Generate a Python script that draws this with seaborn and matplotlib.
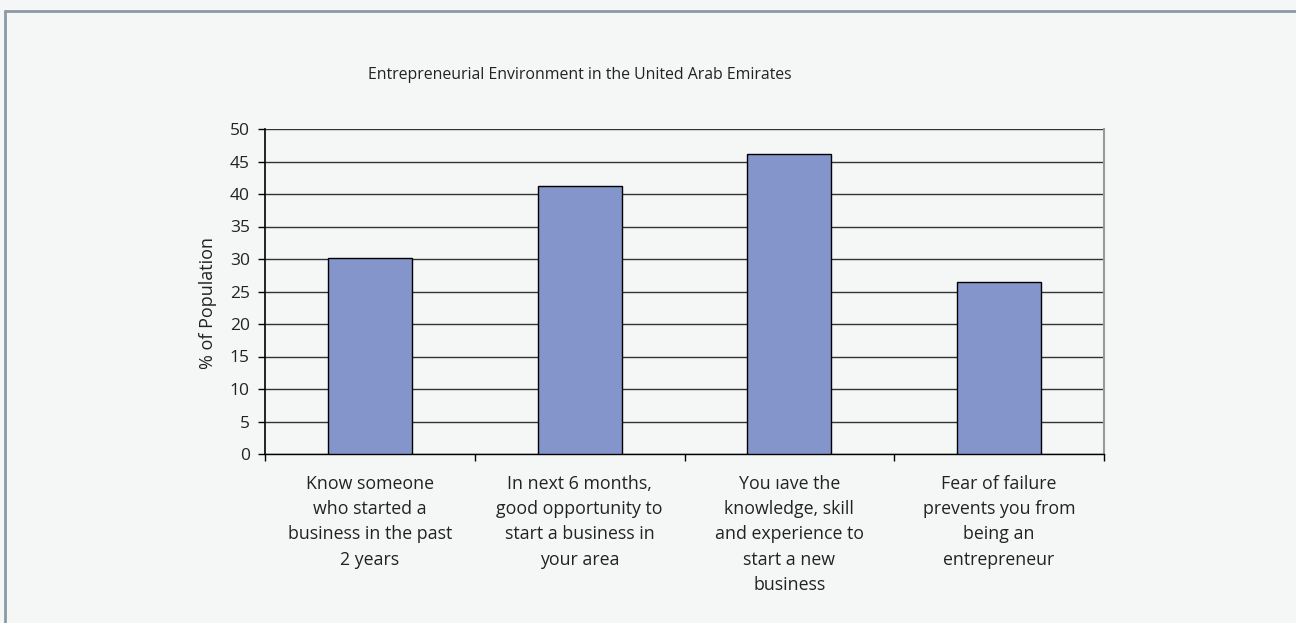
import matplotlib
matplotlib.use("Agg")
import matplotlib.pyplot as plt
import seaborn as sns
import pandas as pd
from matplotlib.lines import Line2D

categories = [
    "Know someone\nwho started a\nbusiness in the past\n2 years",
    "In next 6 months,\ngood opportunity to\nstart a business in\nyour area",
    "You ıave the\nknowledge, skill\nand experience to\nstart a new\nbusiness",
    "Fear of failure\nprevents you from\nbeing an\nentrepreneur",
]
values = [30.2, 41.3, 46.1, 26.4]
y_ticks = [0, 5, 10, 15, 20, 25, 30, 35, 40, 45, 50]
title = "Entrepreneurial Environment in the United Arab Emirates"
y_label = "% of Population"

bg = "#F5F7F7"
bar_color = "#8495CB"
text_color = "#222222"

sns.set_theme(style="white")
plt.rcParams["font.family"] = ["Open Sans", "DejaVu Sans"]

fig = plt.figure(figsize=(12.96, 6.23), dpi=100, facecolor=bg)
W, H = 1296, 623
ax = fig.add_axes([265 / W, 1 - 454 / H, (1104 - 265) / W, (454 - 129) / H])
ax.set_facecolor(bg)

df = pd.DataFrame({"category": categories, "value": values})
sns.barplot(data=df, x="category", y="value", color=bar_color, saturation=1,
            width=0.4, edgecolor="black", linewidth=1.0, ax=ax, zorder=3)

ax.set_ylim(0, 50)
ax.set_xlim(-0.5, len(categories) - 0.5)
ax.set_yticks(y_ticks)
ax.set_yticklabels([str(t) for t in y_ticks], fontsize=12.5, color=text_color)
for t in y_ticks:
    ax.axhline(t, color="#333333", linewidth=1.0, zorder=1)

ax.tick_params(axis="y", which="major", left=True, length=5, width=1,
               color="black", pad=6)
ax.tick_params(axis="x", which="major", bottom=False, length=0, pad=15,
               labelsize=12.8, labelcolor=text_color)
ax.set_xticks(range(len(categories)))
ax.set_xticklabels(categories, linespacing=1.52, va="top")
ax.set_xticks([i - 0.5 for i in range(len(categories) + 1)], minor=True)
ax.tick_params(axis="x", which="minor", bottom=True, length=5, width=1,
               color="black")

ax.spines["top"].set_visible(False)
ax.spines["left"].set_color("black")
ax.spines["left"].set_linewidth(1.2)
ax.spines["bottom"].set_color("black")
ax.spines["bottom"].set_linewidth(1.0)
ax.spines["right"].set_color("#999999")
ax.spines["right"].set_linewidth(1.5)

ax.set_xlabel("")
ax.set_ylabel(y_label, fontsize=13, color=text_color)
ax.yaxis.set_label_coords(-0.057, 0.465)

fig.text(368 / W, 1 - 75 / H, title, fontsize=11.4, color=text_color,
         ha="left", va="center")

# outer frame along the top and left edges
frame = "#8C9AA6"
fig.add_artist(Line2D([4.5 / W, 1.0], [1 - 11 / H, 1 - 11 / H],
                      transform=fig.transFigure, color=frame, linewidth=2))
fig.add_artist(Line2D([4.5 / W, 4.5 / W], [0, 1 - 11 / H],
                      transform=fig.transFigure, color=frame, linewidth=2))

fig.savefig("out.png", dpi=100, facecolor=bg)
